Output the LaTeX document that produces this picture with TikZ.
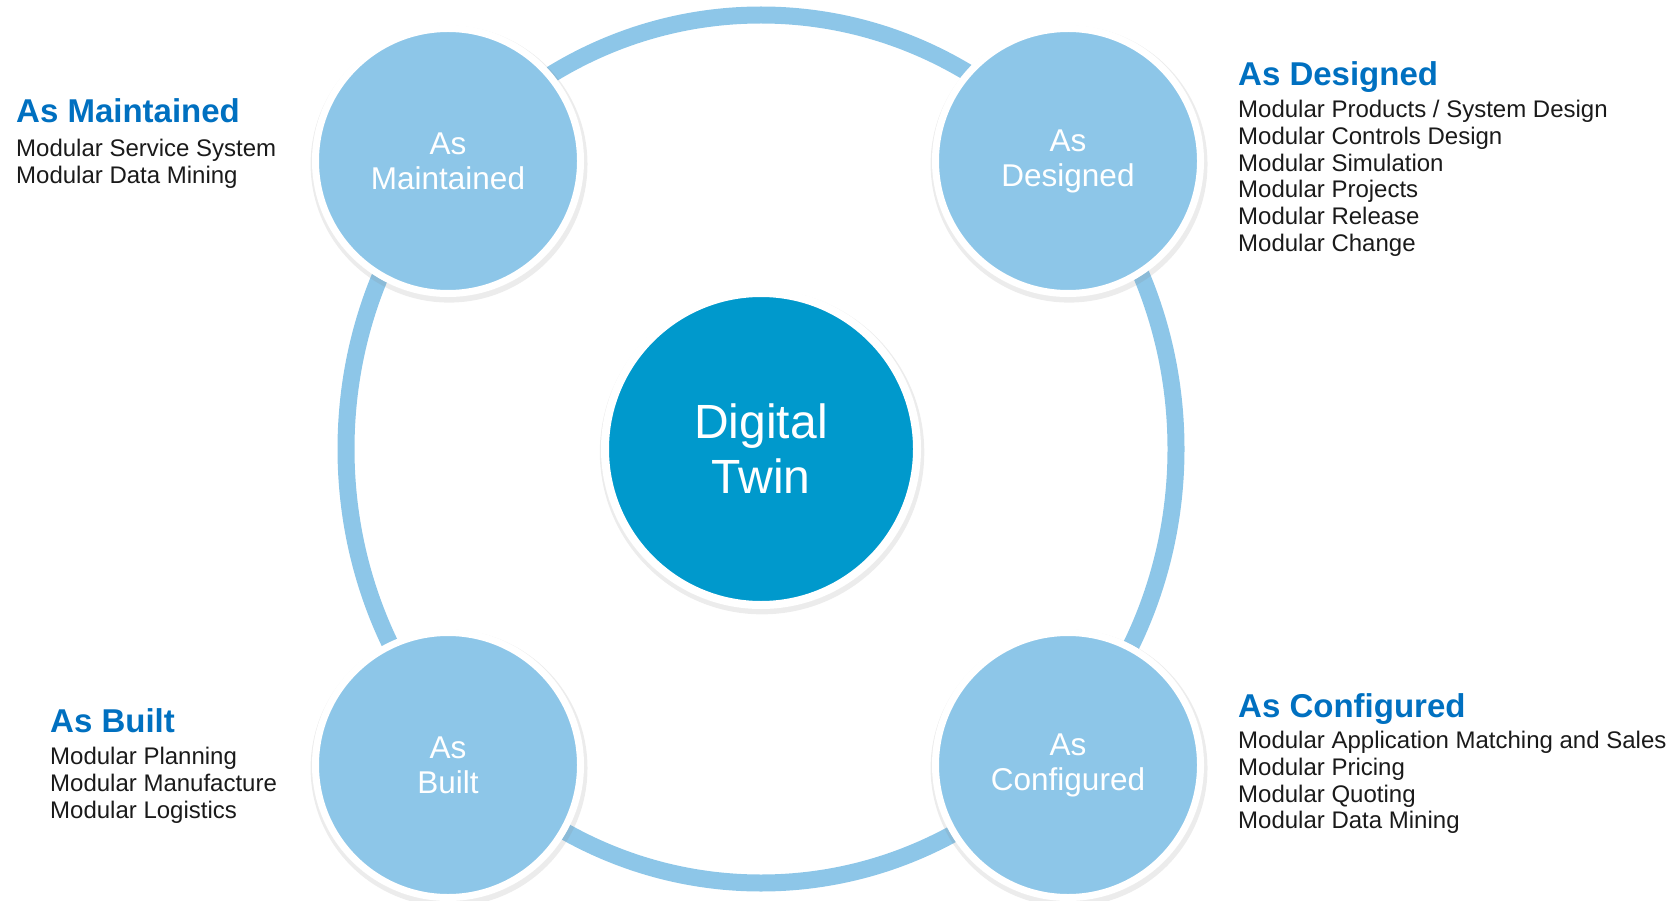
\documentclass[tikz,border=0pt]{standalone}
\usepackage{fontspec}
\setmainfont{Liberation Sans}
\usetikzlibrary{shadows}
\definecolor{ringblue}{HTML}{8DC6E8}
\definecolor{twinblue}{HTML}{0099CC}
\definecolor{headblue}{HTML}{0070C0}
\definecolor{listgray}{HTML}{1A1A1A}

\begin{document}
\begin{tikzpicture}
[x=1pt,y=-1pt]
\tikzset{ring/.style={draw=ringblue, line width=17pt}}
\tikzset{phase/.style={circle, draw=white, line width=7pt, fill=ringblue, minimum size=265pt,
  text=white, align=center, font=\fontsize{31.5}{35}\selectfont,
  drop shadow={opacity=0.15, shadow scale=1.045, shadow xshift=1pt, shadow yshift=-3pt}}}
\tikzset{core/.style={circle, draw=white, line width=8pt, fill=twinblue, minimum size=312pt,
  text=white, align=center, font=\fontsize{48}{55}\selectfont,
  drop shadow={opacity=0.15, shadow scale=1.04, shadow xshift=1pt, shadow yshift=-3pt}}}
\tikzset{head/.style={inner sep=0pt, anchor=base west, text=headblue, font=\bfseries\fontsize{33}{38}\selectfont}}
\tikzset{items/.style={inner sep=0pt, anchor=north west, align=left, text=listgray, font=\fontsize{24}{26.8}\selectfont}}
\useasboundingbox (0,0) rectangle (1680,901);
\coordinate (c) at (761,449);
\draw [ring] (c) ellipse [x radius=415pt, y radius=434pt];
\node [core] (twin) at (c) {Digital\\Twin};
\node [phase] (maint) at (448,161) {As\\Maintained};
\node [phase] (design) at (1068,161) {As\\Designed};
\node [phase] (built) at (448,765) {As\\Built};
\node [phase] (config) at (1068,765) {As\\Configured};
\node [head] (maintHead) at (16,123) {As Maintained};
\node [items] (maintList) at ([yshift=-16pt]maintHead.base west) {Modular Service System\\Modular Data Mining};
\node [head] (designHead) at (1238,86) {As Designed};
\node [items] (designList) at ([yshift=-14pt]designHead.base west) {Modular Products / System Design\\Modular Controls Design\\Modular Simulation\\Modular Projects\\Modular Release\\Modular Change};
\node [head] (builtHead) at (50,732) {As Built};
\node [items] (builtList) at ([yshift=-15pt]builtHead.base west) {Modular Planning\\Modular Manufacture\\Modular Logistics};
\node [head] (configHead) at (1238,717) {As Configured};
\node [items] (configList) at ([yshift=-14pt]configHead.base west) {Modular Application Matching and Sales\\Modular Pricing\\Modular Quoting\\Modular Data Mining};
\end{tikzpicture}
\end{document}
